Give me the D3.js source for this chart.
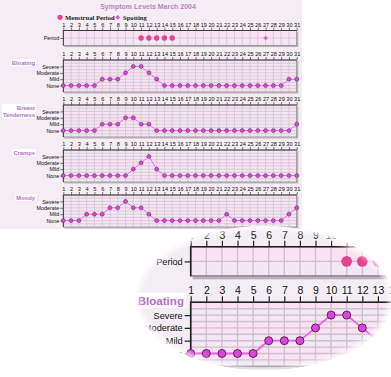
<!DOCTYPE html>
<html><head><meta charset="utf-8">
<script src="https://cdn.jsdelivr.net/npm/d3@7"></script>
<style>
body{margin:0;background:#fff;}
svg{display:block;font-family:"Liberation Sans",Arial,sans-serif;}
</style></head><body>
<svg id="chart" width="391" height="377"></svg>
<script>
// chart data
const days = d3.range(1, 32);
const levels = ["None", "Mild", "Moderate", "Severe"];
const menstrualDays = [11, 12, 13, 14, 15];
const spottingDays = [27];
const symptomNames = ["Bloating", "Breast Tenderness", "Cramps", "Moody"];
const bloating = [0,0,0,0,0,1,1,1,2,3,3,2,1,0,0,0,0,0,0,0,0,0,0,0,0,0,0,0,0,1,1];
const breastTenderness = [0,0,0,0,0,1,1,1,2,2,1,1,0,0,0,0,0,0,0,0,0,0,0,0,0,0,0,0,0,0,1];
const cramps = [0,0,0,0,0,0,0,0,0,1,2,3,1,0,0,0,0,0,0,0,0,0,0,0,0,0,0,0,0,0,0];
const moody = [0,0,0,1,1,1,2,2,3,2,2,1,0,0,0,0,0,0,0,0,0,1,0,0,0,0,0,0,0,1,2];
const symptomValues = [bloating, breastTenderness, cramps, moody];

const pink = "#fbe2f2", lav = "#f3e7f3", gridCol = "#cfc2cf";
const lineCol = "#ea5fe6", dotFill = "#dc46dc", dotStroke = "#5a205a";
const periodCol = "#e2468e", spotCol = "#ee4fdc", titleCol = "#b86fc4";

const svg = d3.select("#chart");

function diamond(r) {
  return `M0,${-r}L${r},0L0,${r}L${-r},0Z`;
}

function drawBox(g, x, y, top, h, s, yTicks) {
  const x0 = x.range()[0], x1 = x.range()[1];
  // bands
  yTicks.bands.forEach((b, i) => {
    g.append("rect")
      .attr("x", x0).attr("width", x1 - x0)
      .attr("y", y(b[1])).attr("height", y(b[0]) - y(b[1]))
      .attr("fill", i % 2 ? lav : pink);
  });
  // grid
  g.append("g").selectAll("line").data(days.slice(1, -1)).join("line")
    .attr("x1", d => x(d)).attr("x2", d => x(d))
    .attr("y1", top).attr("y2", top + h)
    .attr("stroke", gridCol).attr("stroke-width", 0.7 * s);
  g.append("g").selectAll("line").data(yTicks.grid).join("line")
    .attr("x1", x0).attr("x2", x1)
    .attr("y1", d => y(d)).attr("y2", d => y(d))
    .attr("stroke", gridCol).attr("stroke-width", 0.7 * s);
  // shadow + frame
  g.append("path")
    .attr("d", `M${x1 + s},${top + s}V${top + h + s}H${x0 + s}`)
    .attr("fill", "none").attr("stroke", "#b8b0b8").attr("stroke-width", 1.2 * s);
  g.append("rect")
    .attr("x", x0).attr("y", top).attr("width", x1 - x0).attr("height", h)
    .attr("fill", "none").attr("stroke", "#777").attr("stroke-width", 0.7 * s);
  g.append("path")
    .attr("d", `M${x0},${top + h}V${top}H${x1}`)
    .attr("fill", "none").attr("stroke", "#222").attr("stroke-width", 0.8 * s);
}

function topAxis(g, x, top, c) {
  const ax = g.append("g").attr("transform", `translate(0,${top})`)
    .call(d3.axisTop(x).tickValues(days).tickSize(3 * c.s).tickPadding(1 * c.s));
  ax.select(".domain").remove();
  ax.selectAll("line").attr("stroke", "#222").attr("stroke-width", 0.6 * c.s);
  ax.selectAll("text").attr("font-size", c.tickFont).attr("fill", "#111");
}

function drawChart(g, c) {
  const s = c.s;
  const x = d3.scaleLinear().domain([1, 31]).range([c.left, c.left + 30 * c.step]);

  // period row
  const yp = d3.scaleLinear().domain([0, 1]).range([c.periodTop + c.periodH, c.periodTop]);
  topAxis(g, x, c.periodTop, c);
  drawBox(g, x, yp, c.periodTop, c.periodH, s, {bands: [[0.5, 1], [0, 0.5]], grid: [0.5]});
  const pa = g.append("g").attr("transform", `translate(${c.left},0)`)
    .call(d3.axisLeft(yp).tickValues([0.5]).tickFormat(() => "Period").tickSize(3 * s).tickPadding(1 * s));
  pa.select(".domain").remove();
  pa.selectAll("line").attr("stroke", "#222").attr("stroke-width", 0.6 * s);
  pa.selectAll("text").attr("font-size", c.levelFont).attr("fill", "#111");
  g.append("g").selectAll("circle").data(menstrualDays).join("circle")
    .attr("cx", d => x(d)).attr("cy", yp(0.5)).attr("r", 2.7 * s)
    .attr("fill", periodCol);
  g.append("g").selectAll("path").data(spottingDays).join("path")
    .attr("transform", d => `translate(${x(d)},${yp(0.5)})`)
    .attr("d", diamond(2.3 * s)).attr("fill", spotCol);

  // symptom rows
  symptomNames.slice(0, c.panels).forEach((name, i) => {
    const top = c.panelTop + i * c.gap;
    const y = d3.scaleLinear().domain([-1, 4]).range([top + c.panelH, top]);
    const vals = symptomValues[i];
    topAxis(g, x, top, c);
    drawBox(g, x, y, top, c.panelH, s, {
      bands: [[3.5, 4], [2.5, 3.5], [1.5, 2.5], [0.5, 1.5], [-0.5, 0.5], [-1, -0.5]],
      grid: [-0.5, 0, 0.5, 1, 1.5, 2, 2.5, 3, 3.5]
    });
    const ya = g.append("g").attr("transform", `translate(${c.left},0)`)
      .call(d3.axisLeft(y).tickValues([0, 1, 2, 3]).tickFormat(d => levels[d]).tickSize(3 * s).tickPadding(1 * s));
    ya.select(".domain").remove();
    ya.selectAll("line").attr("stroke", "#222").attr("stroke-width", 0.6 * s);
    ya.selectAll("text").attr("font-size", c.levelFont).attr("fill", "#111");

    const line = d3.line().x((d, j) => x(days[j])).y(d => y(d));
    g.append("path").datum(vals).attr("d", line)
      .attr("fill", "none").attr("stroke", lineCol).attr("stroke-width", 0.9 * s);
    g.append("g").selectAll("circle").data(vals).join("circle")
      .attr("cx", (d, j) => x(days[j])).attr("cy", d => y(d)).attr("r", 2 * s)
      .attr("fill", dotFill).attr("stroke", dotStroke).attr("stroke-width", 0.5 * s);

    // panel title with white label
    const words = name === "Breast Tenderness" ? ["Breast", "Tenderness"] : [name];
    const tg = g.append("g");
    const bg = tg.append("rect").attr("fill", "#fff");
    const t = tg.append("text")
      .attr("x", c.titleRight).attr("y", top + c.titleDy)
      .attr("text-anchor", "end")
      .attr("font-size", c.titleFont).attr("font-weight", "bold").attr("fill", titleCol);
    t.selectAll("tspan").data(words).join("tspan")
      .attr("x", c.titleRight).attr("dy", (d, k) => k ? c.titleFont * 1.3 : 0).text(d => d);
    const bb = t.node().getBBox();
    bg.attr("x", bb.x - 1 * s).attr("y", bb.y - 0.5 * s)
      .attr("width", bb.width + 2 * s).attr("height", bb.height + 1 * s);
  });
}

// main chart
const main = svg.append("g");
main.append("rect").attr("x", 0).attr("y", 0).attr("width", 302).attr("height", 229).attr("fill", "#f4eef4");
main.append("text").attr("x", 148).attr("y", 9).attr("text-anchor", "middle")
  .attr("font-size", 7).attr("font-weight", "bold").attr("fill", "#c27fca")
  .text("Symptom Levels March 2004");
main.append("circle").attr("cx", 60).attr("cy", 17.3).attr("r", 2.6).attr("fill", periodCol);
main.append("text").attr("x", 65).attr("y", 19.6).attr("font-family", "Liberation Serif")
  .attr("font-weight", "bold").attr("font-size", 6.6).attr("fill", "#222").text("Menstrual Period");
main.append("path").attr("transform", "translate(117.7,17.3)").attr("d", diamond(2.4)).attr("fill", spotCol);
main.append("text").attr("x", 123).attr("y", 19.6).attr("font-family", "Liberation Serif")
  .attr("font-weight", "bold").attr("font-size", 6.6).attr("fill", "#222").text("Spotting");

drawChart(main, {
  s: 1, left: 63.3, step: 7.78, panels: 4,
  periodTop: 30.5, periodH: 15,
  panelTop: 60, panelH: 32, gap: 45,
  tickFont: 5.6, levelFont: 5.4, titleFont: 5.8,
  titleRight: 35, titleDy: 4.5
});

// magnified lens
const lx = 264, ly = 298, lrx = 128, lry = 72;
const defs = svg.append("defs");
defs.append("clipPath").attr("id", "lens")
  .append("ellipse").attr("cx", lx).attr("cy", ly).attr("rx", lrx).attr("ry", lry);
defs.append("filter").attr("id", "soft").append("feGaussianBlur").attr("stdDeviation", 2.5);

svg.append("ellipse").attr("cx", lx).attr("cy", ly).attr("rx", lrx).attr("ry", lry).attr("fill", "#f3eef3");
const lens = svg.append("g").attr("clip-path", "url(#lens)");
drawChart(lens, {
  s: 2, left: 190.7, step: 15.6, panels: 1,
  periodTop: 246.7, periodH: 29.3,
  panelTop: 302.3, panelH: 64, gap: 90,
  tickFont: 10.5, levelFont: 9.2, titleFont: 11.6,
  titleRight: 184, titleDy: 2.5
});
svg.append("g").attr("clip-path", "url(#lens)")
  .append("ellipse").attr("cx", lx).attr("cy", ly).attr("rx", lrx).attr("ry", lry)
  .attr("fill", "none").attr("stroke", "#fff").attr("stroke-width", 5).attr("filter", "url(#soft)");
</script>
</body></html>
